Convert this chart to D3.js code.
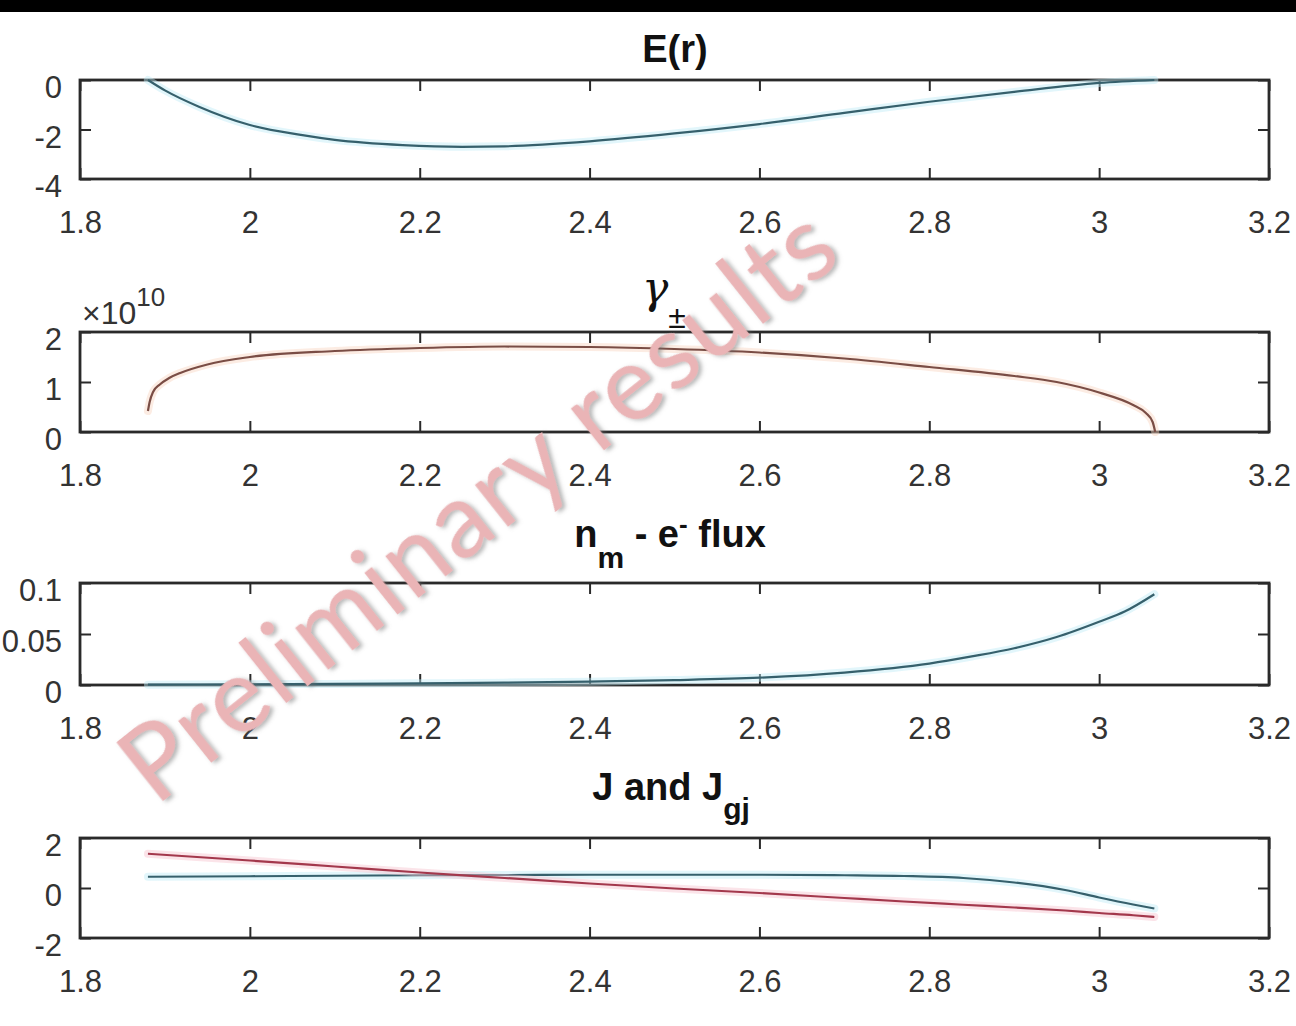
<!DOCTYPE html>
<html>
<head>
<meta charset="utf-8">
<script src="https://cdn.jsdelivr.net/npm/d3@7"></script>
<style>
  html, body { margin: 0; padding: 0; background: #fff; }
  svg { display: block; }
</style>
</head>
<body>
<svg id="chart" width="1296" height="1026"></svg>
<script>
// Shared radial coordinate axis
const xTicks = [1.8, 2, 2.2, 2.4, 2.6, 2.8, 3, 3.2];
const xTickLabels = ["1.8", "2", "2.2", "2.4", "2.6", "2.8", "3", "3.2"];

// Panel 1: electric field E(r)
const rField = [1.88, 1.9, 1.94, 2.0, 2.06, 2.1, 2.18, 2.25, 2.3, 2.4, 2.5, 2.6, 2.7, 2.8, 2.9, 3.0, 3.065];
const fieldE = [0, -0.42, -1.08, -1.82, -2.22, -2.42, -2.63, -2.7, -2.68, -2.48, -2.16, -1.78, -1.33, -0.88, -0.48, -0.12, 0];
const fieldTicks = [-4, -2, 0];
const fieldTickLabels = ["-4", "-2", "0"];

// Panel 2: Lorentz factor gamma±
const rGamma = [1.88, 1.882, 1.886, 1.894, 1.905, 1.918, 1.95, 2.0, 2.1, 2.2, 2.3, 2.4, 2.5, 2.6, 2.7, 2.8, 2.9, 2.95, 3.0, 3.04, 3.055, 3.063, 3.066];
const gammaPM = [0.42e10, 0.6e10, 0.8e10, 0.95e10, 1.08e10, 1.18e10, 1.35e10, 1.5e10, 1.62e10, 1.68e10, 1.71e10, 1.7e10,
                 1.66e10, 1.59e10, 1.47e10, 1.3e10, 1.12e10, 1.0e10, 0.79e10, 0.54e10, 0.38e10, 0.2e10, 0];
const gammaTicks = [0, 1e10, 2e10];
const gammaTickLabels = ["0", "1", "2"];

// Panel 3: n_m - e- flux
const rFlux = [1.88, 2.0, 2.1, 2.2, 2.3, 2.4, 2.5, 2.6, 2.7, 2.8, 2.85, 2.9, 2.95, 3.0, 3.03, 3.065];
const fluxNm = [0.0003, 0.0007, 0.0011, 0.0016, 0.0023, 0.0033, 0.0048, 0.0072, 0.0122, 0.021, 0.028, 0.036, 0.047, 0.062, 0.072, 0.089];
const fluxTicks = [0, 0.05, 0.1];
const fluxTickLabels = ["0", "0.05", "0.1"];

// Panel 4: current J and Goldreich-Julian current J_gj
const rCurrent = [1.88, 2.0, 2.1, 2.2, 2.3, 2.4, 2.5, 2.6, 2.7, 2.77, 2.84, 2.9, 2.96, 3.0, 3.04, 3.065];
const currentJ = [0.45, 0.47, 0.49, 0.51, 0.52, 0.53, 0.53, 0.53, 0.51, 0.48, 0.4, 0.22, -0.08, -0.38, -0.66, -0.82];
const currentJgj = [1.37, 1.1, 0.86, 0.62, 0.4, 0.18, -0.02, -0.2, -0.4, -0.54, -0.67, -0.78, -0.9, -1.0, -1.09, -1.16];
const currentTicks = [-2, 0, 2];
const currentTickLabels = ["-2", "0", "2"];

const svg = d3.select("#chart");
const AXIS_COLOR = "#2a2a2a";
const LABEL_COLOR = "#333";
const FONT = "'Liberation Sans', Arial, Helvetica, sans-serif";

svg.append("rect").attr("x", 0).attr("y", 0).attr("width", 1296).attr("height", 12).attr("fill", "#000");

const x = d3.scaleLinear().domain([1.8, 3.2]).range([80, 1269]);

function panel(top, bottom, yDomain, yTickVals, yTickLabs) {
  const y = d3.scaleLinear().domain(yDomain).range([bottom, top]);
  const g = svg.append("g");

  const styleAxis = sel => {
    sel.select(".domain").remove();
    sel.selectAll(".tick line").attr("stroke", AXIS_COLOR).attr("stroke-width", 2);
    sel.selectAll(".tick text")
      .attr("fill", LABEL_COLOR)
      .style("font-family", FONT)
      .style("font-size", "31px");
  };

  g.append("g").attr("transform", `translate(0,${bottom})`)
    .call(d3.axisBottom(x).tickValues(xTicks).tickFormat((d, i) => xTickLabels[i])
      .tickSizeInner(-11).tickSizeOuter(0).tickPadding(32))
    .call(styleAxis);

  g.append("g").attr("transform", `translate(0,${top})`)
    .call(d3.axisTop(x).tickValues(xTicks).tickFormat(() => "")
      .tickSizeInner(-11).tickSizeOuter(0))
    .call(styleAxis);

  g.append("g").attr("transform", `translate(${x.range()[0]},0)`)
    .call(d3.axisLeft(y).tickValues(yTickVals).tickFormat((d, i) => yTickLabs[i])
      .tickSizeInner(-11).tickSizeOuter(0).tickPadding(18))
    .call(styleAxis)
    .call(sel => sel.selectAll(".tick text").attr("y", 8));

  g.append("g").attr("transform", `translate(${x.range()[1]},0)`)
    .call(d3.axisRight(y).tickValues(yTickVals).tickFormat(() => "")
      .tickSizeInner(-11).tickSizeOuter(0))
    .call(styleAxis);

  g.append("rect")
    .attr("x", x.range()[0]).attr("y", top)
    .attr("width", x.range()[1] - x.range()[0]).attr("height", bottom - top)
    .attr("fill", "none").attr("stroke", AXIS_COLOR).attr("stroke-width", 2.8);

  return { g, y };
}

function curve(p, xs, ys, core, halo) {
  const pts = xs.map((r, i) => [r, ys[i]]);
  const line = d3.line().x(d => x(d[0])).y(d => p.y(d[1])).curve(d3.curveMonotoneX);
  p.g.append("path").attr("d", line(pts)).attr("fill", "none")
    .attr("stroke", halo).attr("stroke-width", 8).attr("stroke-opacity", 0.45)
    .attr("stroke-linecap", "round");
  p.g.append("path").attr("d", line(pts)).attr("fill", "none")
    .attr("stroke", core).attr("stroke-width", 2.2).attr("stroke-linejoin", "round");
}

function title(xc, yb, parts) {
  const t = svg.append("text").attr("x", xc).attr("y", yb)
    .attr("text-anchor", "middle").attr("fill", "#111")
    .style("font-family", FONT).style("font-weight", "bold").style("font-size", "38px");
  parts.forEach(p => {
    const s = t.append("tspan").text(p.text);
    if (p.dy) s.attr("dy", p.dy);
    if (p.size) s.style("font-size", p.size + "px");
    if (p.family) s.style("font-family", p.family);
    if (p.weight) s.style("font-weight", p.weight);
    if (p.italic) s.style("font-style", "italic");
  });
  return t;
}

const BLUE = "#36606c", BLUE_HALO = "#bfeaf6";
const ORANGE = "#7a4d45", ORANGE_HALO = "#f8d5c2";
const RED = "#a3384c", RED_HALO = "#f6c3cf";

// Panel 1
const p1 = panel(80, 179, [-4, 0], fieldTicks, fieldTickLabels);
curve(p1, rField, fieldE, BLUE, BLUE_HALO);
title(675, 62, [{ text: "E(r)" }]);

// Panel 2
const p2 = panel(332, 432, [0, 2e10], gammaTicks, gammaTickLabels);
curve(p2, rGamma, gammaPM, ORANGE, ORANGE_HALO);
title(664, 303, [
  { text: "γ", family: "'DejaVu Serif', 'Liberation Serif', serif", weight: "normal", italic: true, size: 44 },
  { text: "±", dy: 25, size: 32, weight: "normal" }
]);
const mult = svg.append("text").attr("x", 82).attr("y", 324).attr("fill", LABEL_COLOR)
  .style("font-family", FONT).style("font-size", "32px");
mult.append("tspan").text("×10");
mult.append("tspan").attr("dy", -18).style("font-size", "26px").text("10");

// Panel 3
const p3 = panel(583, 685, [0, 0.1], fluxTicks, fluxTickLabels);
curve(p3, rFlux, fluxNm, BLUE, BLUE_HALO);
title(670, 547, [
  { text: "n" },
  { text: "m", dy: 21, size: 30 },
  { text: " - e", dy: -21 },
  { text: "-", dy: -14, size: 26 },
  { text: " flux", dy: 14 }
]);

// Panel 4
const p4 = panel(838, 938, [-2, 2], currentTicks, currentTickLabels);
curve(p4, rCurrent, currentJ, BLUE, BLUE_HALO);
curve(p4, rCurrent, currentJgj, RED, RED_HALO);
title(671, 800, [
  { text: "J and J" },
  { text: "gj", dy: 19, size: 30 }
]);

// Watermark
const defs = svg.append("defs");
const f = defs.append("filter").attr("id", "wmShadow")
  .attr("x", "-10%").attr("y", "-10%").attr("width", "120%").attr("height", "120%");
f.append("feDropShadow").attr("dx", 2).attr("dy", 3).attr("stdDeviation", 2)
  .attr("flood-color", "#6a6a6a").attr("flood-opacity", 0.5);

svg.append("text")
  .attr("transform", "translate(500,533) rotate(-38.5)")
  .attr("text-anchor", "middle")
  .attr("textLength", 880).attr("lengthAdjust", "spacing")
  .attr("fill", "#eab4b6")
  .attr("filter", "url(#wmShadow)")
  .style("font-family", "Lato, 'Open Sans', sans-serif")
  .style("font-weight", 400)
  .style("font-size", "104px")
  .text("Preliminary results");
</script>
</body>
</html>
